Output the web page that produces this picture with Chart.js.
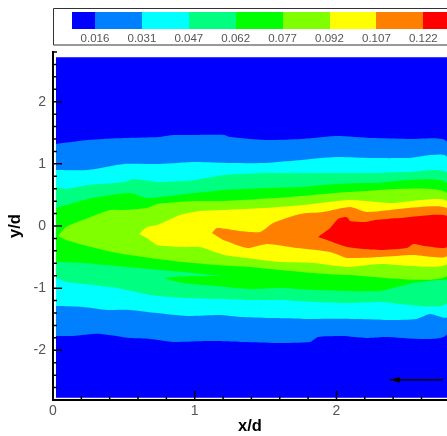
<!DOCTYPE html>
<html><head><meta charset="utf-8">
<style>html,body{margin:0;padding:0;background:#fff;overflow:hidden}canvas{display:block}</style>
<script src="https://cdn.jsdelivr.net/npm/chart.js@4/dist/chart.umd.min.js"></script>
</head><body><canvas id="c" width="447" height="436" style="width:447px;height:436px"></canvas>
<script>
const legendLabels=['0.016','0.031','0.047','0.062','0.077','0.092','0.107','0.122'];
const bandColors=['#0000ff','#0080ff','#00ffff','#00ff80','#00ff00','#80ff00','#ffff00','#ff8000','#ff0000'];
const level0X=[.021,2.78,2.78,.021];
const level0Y=[2.717,2.717,-2.765,-2.765];
const level1X=[.021,.247,.501,.748,.847,1.002,1.207,1.249,1.496,1.750,1.997,2.251,2.498,2.780,2.780,2.329,2.209,2.046,1.870,1.814,1.574,1.348,1.087,.847,.685,.543,.332,.141,.021];
const level1Y=[1.319,1.383,1.415,1.431,1.464,1.464,1.464,1.431,1.383,1.399,1.448,1.415,1.399,1.351,-1.736,-1.785,-1.801,-1.769,-1.785,-1.865,-1.881,-1.865,-1.849,-1.865,-1.817,-1.801,-1.736,-1.769,-1.769];
const level2X=[.021,.247,.501,.748,1.002,1.249,1.496,1.750,1.997,2.251,2.498,2.780,2.780,2.660,2.562,2.378,2.096,1.814,1.531,1.320,1.179,.946,.734,.543,.381,.212,.021];
const level2Y=[.900,.900,.997,.997,1.029,1.013,1.013,1.061,1.109,1.093,1.093,1.109,-1.463,-1.415,-1.495,-1.511,-1.495,-1.495,-1.479,-1.463,-1.431,-1.447,-1.399,-1.350,-1.350,-1.302,-1.286];
const level3X=[.021,.092,.247,.501,.565,.748,1.002,1.207,1.496,1.750,1.997,2.251,2.498,2.780,2.780,2.308,2.075,1.835,1.602,1.390,1.157,.917,.685,.452,.212,.099,.021];
const level3Y=[.627,.595,.659,.707,.756,.707,.740,.820,.852,.852,.852,.852,.868,.852,-1.238,-1.222,-1.238,-1.222,-1.190,-1.190,-1.174,-1.158,-1.109,-.997,-.932,-.900,-.836];
const level4X=[.021,.282,.543,.663,1.002,1.207,1.496,1.750,1.997,2.251,2.780,2.780,2.710,2.541,2.308,2.075,1.835,1.602,1.390,1.157,.917,.790,.988,1.179,1.108,.917,.685,.452,.212,.021];
const level4Y=[.289,.450,.531,.450,.531,.579,.611,.627,.675,.691,.691,-.852,-.868,-.916,-1.045,-1.045,-1.029,-.997,-1.013,-.965,-.916,-.836,-.804,-.804,-.788,-.740,-.691,-.643,-.595,-.579];
const level5X=[.035,.092,.247,.402,.501,.663,.734,1.002,1.207,1.672,2.096,2.780,2.780,2.075,1.835,1.602,1.390,1.157,.917,.685,.452,.212,.092];
const level5Y=[-.161,-.016,.129,.257,.257,.289,.354,.402,.402,.466,.547,.531,-.804,-.788,-.756,-.707,-.659,-.627,-.579,-.514,-.434,-.305,-.225];
const level6X=[.607,.663,.734,.896,1.037,1.207,1.489,1.771,2.096,2.378,2.780,2.780,2.308,2.075,1.835,1.602,1.369,1.207,1.037,.896,.734,.663];
const level6Y=[-.129,-.016,.016,.177,.241,.257,.289,.338,.418,.370,.402,-.611,-.611,-.659,-.595,-.579,-.514,-.466,-.338,-.338,-.305,-.193];
const level7X=[1.122,1.157,1.320,1.461,1.553,1.743,1.905,2.096,2.216,2.780,2.780,2.541,2.308,2.075,1.955,1.722,1.510,1.369,1.200];
const level7Y=[-.113,-.032,-.080,-.096,.048,.193,.225,.305,.225,.289,-.482,-.466,-.498,-.514,-.418,-.354,-.289,-.354,-.225];
const level8X=[1.870,1.955,2.011,2.061,2.082,2.096,2.202,2.272,2.449,2.780,2.780,2.625,2.541,2.498,2.308,2.075,1.934];
const level8Y=[-.177,-.032,.113,.145,.129,.080,.064,.096,.129,.161,-.338,-.322,-.289,-.354,-.386,-.338,-.225];
const arrowLineX=[2.378,2.752];
const arrowLineY=[-2.476,-2.476];
const arrowHeadX=[2.378,2.448,2.448];
const arrowHeadY=[-2.476,-2.428,-2.524];

const zip=(xs,ys)=>xs.map((x,i)=>({x,y:ys[i]}));
const levelsX=[level0X,level1X,level2X,level3X,level4X,level5X,level6X,level7X,level8X];
const levelsY=[level0Y,level1Y,level2Y,level3Y,level4Y,level5Y,level6Y,level7Y,level8Y];
const bands=levelsX.map((xs,i)=>({data:zip(xs,levelsY[i]),showLine:true,fill:'shape',backgroundColor:bandColors[i],borderColor:bandColors[i],borderWidth:0,pointRadius:0,tension:i===0?0:0.2}));
const arrowDs=[
 {data:zip(arrowLineX,arrowLineY),showLine:true,fill:false,borderColor:'#000',borderWidth:1.5,pointRadius:0},
 {data:zip(arrowHeadX,arrowHeadY),showLine:true,fill:'shape',backgroundColor:'#000',borderColor:'#000',borderWidth:0,pointRadius:0}
];
const gray='#555';
const font='"Liberation Sans",Arial,sans-serif';

const decor={id:'decor',
 afterDatasetsDraw(chart){
  const {ctx,scales:{x,y}}=chart;
  ctx.save();ctx.strokeStyle='#000';ctx.lineWidth=1.5;ctx.beginPath();
  x.ticks.forEach(t=>{const major=Number.isInteger(Math.round(t.value*1000)/1000);const p=x.getPixelForValue(t.value);
    ctx.moveTo(p,y.bottom);ctx.lineTo(p,y.bottom-(major?9:4));});
  y.ticks.forEach(t=>{const major=Number.isInteger(Math.round(t.value*1000)/1000);const p=y.getPixelForValue(t.value);
    ctx.moveTo(x.left,p);ctx.lineTo(x.left+(major?9:4),p);});
  ctx.stroke();ctx.restore();
 },
 afterDraw(chart){
  const {ctx}=chart;
  ctx.save();
  ctx.strokeStyle='#333';ctx.lineWidth=1;
  ctx.beginPath();ctx.moveTo(448,8.5);ctx.lineTo(53.5,8.5);ctx.lineTo(53.5,45);ctx.lineTo(448,45);ctx.stroke();
  const step=46.9,first=95;
  bandColors.forEach((c,i)=>{
    const l=i===0?72:first+(i-1)*step, r=first+i*step;
    ctx.fillStyle=c;ctx.fillRect(Math.round(l),12,Math.round(r)-Math.round(l),17);
  });
  ctx.fillStyle=gray;ctx.font='11.5px '+font;ctx.textAlign='center';ctx.textBaseline='middle';
  legendLabels.forEach((s,i)=>ctx.fillText(s,first+i*step,39));
  ctx.restore();
 }};

new Chart(document.getElementById('c'),{
 type:'scatter',
 data:{datasets:[...arrowDs,...bands.slice().reverse()]},
 plugins:[decor],
 options:{
  responsive:false,animation:false,
  layout:{padding:{top:52,right:0,left:0,bottom:0}},
  plugins:{legend:{display:false},tooltip:{enabled:false},title:{display:false}},
  scales:{
   x:{type:'linear',min:0,max:2.78,
    afterFit(s){s.height=36;},
    border:{display:true,color:'#000',width:2},
    grid:{display:true,drawOnChartArea:false,drawTicks:false},
    title:{display:true,text:'x/d',color:'#000',font:{family:font,size:16.5,weight:'bold'},padding:{top:0,bottom:0}},
    ticks:{stepSize:.2,includeBounds:false,autoSkip:false,maxRotation:0,color:gray,padding:3,font:{family:font,size:14},
      callback(v){const r=Math.round(v*1000)/1000;return Number.isInteger(r)?String(r):'';}}
   },
   y:{type:'linear',min:-2.8,max:2.8,
    afterFit(s){s.width=53;},
    border:{display:true,color:'#000',width:2},
    grid:{display:true,drawOnChartArea:false,drawTicks:false},
    title:{display:true,text:'y/d',color:'#000',font:{family:font,size:16.5,weight:'bold'},padding:{top:6,bottom:0}},
    ticks:{stepSize:.2,autoSkip:false,color:gray,padding:7,font:{family:font,size:14},
      callback(v){const r=Math.round(v*1000)/1000;return Number.isInteger(r)?String(r):'';}}
   }
  }
 }
});
</script></body></html>
